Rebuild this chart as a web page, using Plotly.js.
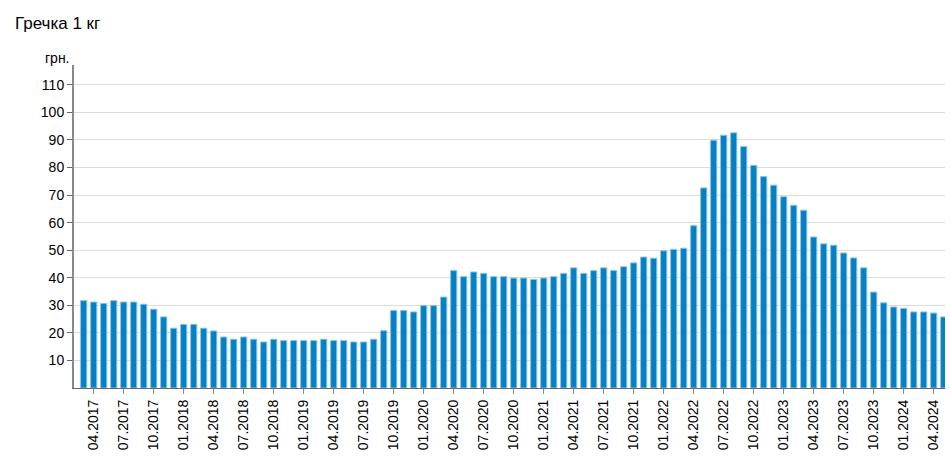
<!DOCTYPE html>
<html>
<head>
<meta charset="utf-8">
<script src="https://cdn.plot.ly/plotly-3.0.1.min.js"></script>
<style>html,body{margin:0;padding:0;background:#fff;}#chart{width:950px;height:458px;}</style>
</head>
<body>
<div id="chart"></div>
<script>
const startYear = 2017, startMonth = 3;
const prices = [
  31.7, 31.2, 30.7, 31.7, 31.2, 31.2, 30.4, 28.6, 25.8, 21.7,
  23.1, 23.1, 21.7, 20.7, 18.5, 17.7, 18.5, 17.7, 16.7, 17.7, 17.2, 17.2,
  17.2, 17.2, 17.7, 17.2, 17.2, 16.7, 16.7, 17.7, 20.8, 28.1, 28.1, 27.6,
  29.9, 29.9, 33.0, 42.6, 40.4, 42.1, 41.6, 40.4, 40.4, 39.9, 39.9, 39.4,
  39.9, 40.4, 41.6, 43.6, 41.6, 42.6, 43.6, 42.6, 44.0, 45.4, 47.5, 47.1,
  49.8, 50.3, 50.7, 58.9, 72.6, 89.9, 91.7, 92.6, 87.6, 80.8, 76.7, 73.6,
  69.4, 66.3, 64.5, 54.8, 52.3, 51.8, 49.0, 47.2, 43.6, 34.8, 30.9, 29.4,
  28.9, 27.6, 27.6, 27.2, 25.8
];
const months = prices.map((_, i) => {
  const m = (startMonth - 1 + i) % 12 + 1;
  const y = startYear + Math.floor((startMonth - 1 + i) / 12);
  return (m < 10 ? '0' : '') + m + '.' + y;
});
const tickLabels = months.filter((_, i) => i % 3 === 1);
const yTicks = [10, 20, 30, 40, 50, 60, 70, 80, 90, 100, 110];

const trace = {
  type: 'bar',
  x: months,
  y: prices,
  width: 0.62,
  marker: { color: '#0780c2', line: { color: '#86c3e8', width: 1 } },
  hoverinfo: 'x+y'
};

const layout = {
  width: 950, height: 458,
  margin: { l: 74, r: 5, t: 65, b: 70 },
  paper_bgcolor: '#fff', plot_bgcolor: '#fff',
  font: { family: 'Arial, "Liberation Sans", sans-serif', size: 14, color: '#000' },
  showlegend: false,
  bargap: 0.4,
  xaxis: {
    type: 'category',
    range: [-0.97, 86.13],
    tickmode: 'array',
    tickvals: tickLabels,
    ticktext: tickLabels,
    tickangle: -90,
    ticks: 'outside', ticklen: 5, tickcolor: '#888', tickwidth: 1,
    showline: true, linecolor: '#666', linewidth: 1,
    showgrid: false, zeroline: false,
    tickfont: { size: 14, color: '#000' }
  },
  yaxis: {
    range: [0, 117.2],
    tickmode: 'array',
    tickvals: yTicks,
    ticks: 'outside', ticklen: 5, tickcolor: '#666', tickwidth: 1,
    showline: true, linecolor: '#888', linewidth: 2,
    showgrid: true, gridcolor: '#dcdcdc', gridwidth: 1,
    zeroline: false,
    tickfont: { size: 14, color: '#000' }
  },
  annotations: [
    { text: 'Гречка 1 кг', xref: 'paper', yref: 'paper', x: -0.0705, y: 1.128,
      xanchor: 'left', yanchor: 'middle', showarrow: false,
      font: { size: 17, color: '#000' } },
    { text: 'грн.', xref: 'paper', yref: 'paper', x: -0.0184, y: 1.022,
      xanchor: 'center', yanchor: 'middle', showarrow: false,
      font: { size: 14, color: '#000' } }
  ]
};

Plotly.newPlot('chart', [trace], layout, { displayModeBar: false, staticPlot: true });
</script>
</body>
</html>
